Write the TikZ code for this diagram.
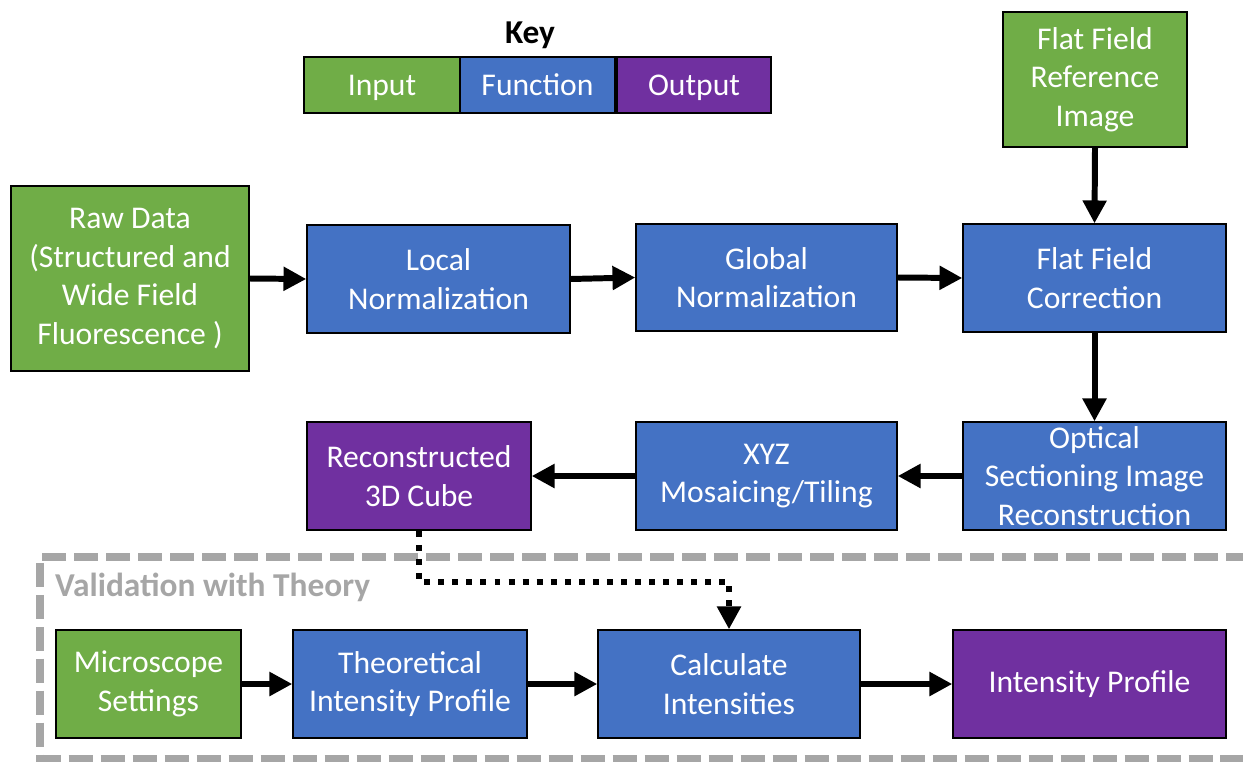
\documentclass[tikz,border=0pt]{standalone}
\usepackage{fontspec}
\setmainfont{Carlito}
\usetikzlibrary{arrows.meta}
\definecolor{inpgreen}{RGB}{112,173,71}
\definecolor{fnblue}{RGB}{68,114,196}
\definecolor{outpurple}{RGB}{112,48,160}
\definecolor{framegray}{RGB}{166,166,166}
\begin{document}
\begin{tikzpicture}[x=0.02cm, y=-0.02cm,
  every node/.style={font=\fontsize{18}{22}\selectfont},
  box/.style={draw=black, line width=0.8pt, text=white, align=center, inner sep=0pt},
  inbox/.style={box, fill=inpgreen},
  fnbox/.style={box, fill=fnblue},
  outbox/.style={box, fill=outpurple},
  keybox/.style={text height=13pt, text depth=0.6pt, minimum height=1.12cm},
  flow/.style={line width=3.4pt, -{Triangle[length=13pt,width=13pt]}},
  dotflow/.style={flow, dash pattern=on 3.4pt off 4.6pt}]
\useasboundingbox (0,0) rectangle (1243,761);
% key
\node[font=\fontsize{19}{22}\selectfont\bfseries] (keytitle) at (530,35) {Key};
\node[inbox, keybox, minimum width=3.12cm] (keyin) at (382,85) {Input};
\node[fnbox, keybox, minimum width=3.1cm] (keyfn) at (537.5,85) {Function};
\node[outbox, keybox, minimum width=3.08cm] (keyout) at (694,85) {Output};
% main pipeline
\node[inbox, minimum width=3.68cm, minimum height=2.7cm] (refimg) at (1095,79.5) {Flat Field\\Reference\\Image};
\node[inbox, minimum width=4.76cm, minimum height=3.7cm] (rawdata) at (130,278.5) {Raw Data\\(Structured and\\Wide Field\\Fluorescence )};
\node[fnbox, minimum width=5.26cm, minimum height=2.16cm] (localnorm) at (438.5,279) {Local\\Normalization};
\node[fnbox, minimum width=5.22cm, minimum height=2.14cm] (globalnorm) at (766.5,277.5) {Global\\Normalization};
\node[fnbox, minimum width=5.26cm, minimum height=2.16cm] (ffcorr) at (1094.5,278) {Flat Field\\Correction};
\node[fnbox, minimum width=5.26cm, minimum height=2.16cm] (osrecon) at (1094.5,476) {Optical\\Sectioning Image\\Reconstruction};
\node[fnbox, minimum width=5.22cm, minimum height=2.16cm] (mosaic) at (766.5,476) {XYZ\\Mosaicing/Tiling};
\node[outbox, minimum width=4.48cm, minimum height=2.16cm] (cube) at (419,476) {Reconstructed\\3D Cube};
% validation frame
\draw[framegray, line width=4pt, dash pattern=on 0.48cm off 0.16cm] (1250,557) -| (40,758) -- (1250,758);
\node[anchor=west, text=framegray, font=\fontsize{19}{22}\selectfont\bfseries] (valtitle) at (49,587) {Validation with Theory};
\node[inbox, minimum width=3.7cm, minimum height=2.16cm] (micro) at (148.5,684) {Microscope\\Settings};
\node[fnbox, minimum width=4.68cm, minimum height=2.16cm] (theory) at (410,684) {Theoretical\\Intensity Profile};
\node[fnbox, minimum width=5.24cm, minimum height=2.16cm] (calc) at (729,684) {Calculate\\Intensities};
\node[outbox, minimum width=5.46cm, minimum height=2.16cm] (intprof) at (1089.5,684) {Intensity Profile};
% connectors
\draw[flow] (rawdata.east) -- (localnorm.west);
\draw[flow] (localnorm.east) -- (globalnorm.west);
\draw[flow] (globalnorm.east) -- (ffcorr.west);
\draw[flow] (refimg.south) -- (ffcorr.north);
\draw[flow] (ffcorr.south) -- (osrecon.north);
\draw[flow] (osrecon.west) -- (mosaic.east);
\draw[flow] (mosaic.west) -- (cube.east);
\draw[dotflow] (cube.south) -- ++(0,51) -| (calc.north);
\draw[flow] (micro.east) -- (theory.west);
\draw[flow] (theory.east) -- (calc.west);
\draw[flow] (calc.east) -- (intprof.west);
\end{tikzpicture}
\end{document}
